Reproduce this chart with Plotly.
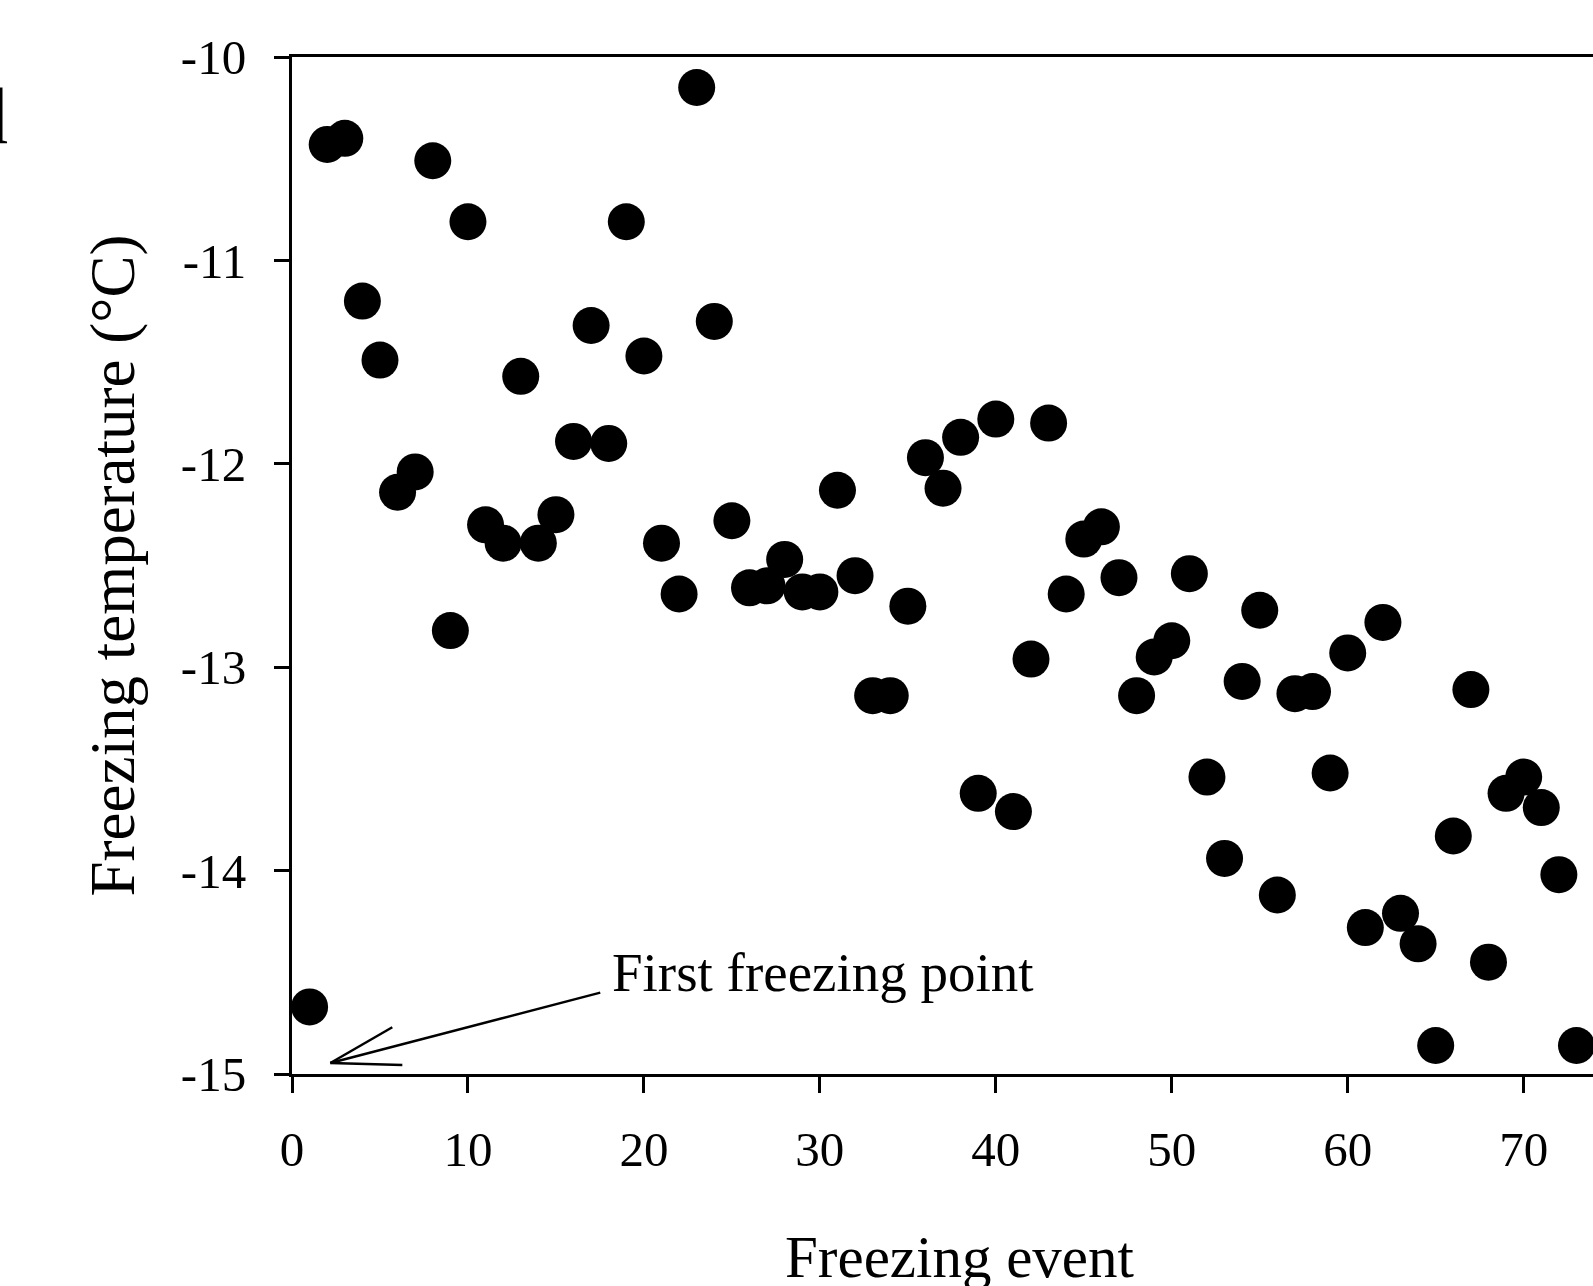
import plotly.graph_objects as go

# Freezing events (sequence number) and the temperature at which each one occurred
event = list(range(1, 75))
freeze_temp = [
    -14.67, -10.43, -10.40, -11.20, -11.49, -12.14, -12.04, -10.51, -12.82, -10.81,
    -12.30, -12.39, -11.57, -12.39, -12.25, -11.89, -11.32, -11.90, -10.81, -11.47,
    -12.39, -12.64, -10.15, -11.30, -12.28, -12.61, -12.60, -12.47, -12.63, -12.63,
    -12.13, -12.55, -13.14, -13.14, -12.70, -11.97, -12.12, -11.87, -13.62, -11.78,
    -13.71, -12.96, -11.80, -12.64, -12.37, -12.31, -12.56, -13.14, -12.95, -12.87,
    -12.54, -13.54, -13.94, -13.07, -12.72, -14.12, -13.13, -13.12, -13.52, -12.93,
    -14.28, -12.78, -14.21, -14.36, -14.86, -13.83, -13.11, -14.45, -13.62, -13.54,
    -13.69, -14.02, -14.86, -14.43,
]

x_tickvals = [0, 10, 20, 30, 40, 50, 60, 70]
x_ticktext = ["0", "10", "20", "30", "40", "50", "60", "70"]
y_tickvals = [-15, -14, -13, -12, -11, -10]
y_ticktext = ["-15", "-14", "-13", "-12", "-11", "-10"]

# Open arrow pointing at the first freezing point (data coordinates)
arrow_tip = (2.18, -14.946)
arrow_tail = (17.52, -14.60)
arrow_barbs = [(5.70, -14.77), (6.27, -14.956)]

FONT = "Liberation Serif"

fig = go.Figure()
fig.add_trace(go.Scatter(
    x=event, y=freeze_temp, mode="markers",
    marker=dict(size=37, color="black", line=dict(width=0)),
    cliponaxis=False, showlegend=False,
))

line_style = dict(color="black", width=2.5)
fig.add_shape(type="line", xref="x", yref="y",
              x0=arrow_tip[0], y0=arrow_tip[1], x1=arrow_tail[0], y1=arrow_tail[1],
              line=line_style)
for bx, by in arrow_barbs:
    fig.add_shape(type="line", xref="x", yref="y",
                  x0=arrow_tip[0], y0=arrow_tip[1], x1=bx, y1=by, line=line_style)

fig.add_annotation(x=18.1, y=-14.66, xref="x", yref="y", text="First freezing point",
                   showarrow=False, xanchor="left", yanchor="bottom",
                   font=dict(family=FONT, size=55, color="black"))

# Axis titles
fig.add_annotation(x=37.97, y=-0.1455, xref="x", yref="paper", text="Freezing event",
                   showarrow=False, xanchor="center", yanchor="top",
                   font=dict(family=FONT, size=59, color="black"))
fig.add_annotation(x=-0.1376, y=0.5, xref="paper", yref="paper",
                   text="Freezing temperature (°C)", textangle=-90,
                   showarrow=False, xanchor="center", yanchor="middle",
                   font=dict(family=FONT, size=63, color="black"))

# Panel letter
fig.add_annotation(x=-0.2168, y=0.9875, xref="paper", yref="paper", text="d",
                   showarrow=False, xanchor="right", yanchor="top",
                   font=dict(family=FONT, size=80, color="black"))

axis_common = dict(
    showgrid=False, zeroline=False, showline=True, linecolor="black", linewidth=3,
    ticks="outside", tickcolor="black", tickwidth=3,
    tickfont=dict(family=FONT, size=49, color="black"),
)
fig.update_xaxes(range=[0, 73.94], tickvals=x_tickvals, ticktext=x_ticktext,
                 ticklen=16, mirror=True, ticklabelstandoff=14, **axis_common)
fig.update_yaxes(range=[-15, -10], tickvals=y_tickvals, ticktext=y_ticktext,
                 ticklen=15, ticklabelstandoff=18, **axis_common)

fig.update_layout(
    width=1593, height=1286,
    margin=dict(l=292, r=0, t=57, b=212, pad=0),
    plot_bgcolor="white", paper_bgcolor="white",
    font=dict(family=FONT, color="black"),
)

fig.write_html("out.html")
